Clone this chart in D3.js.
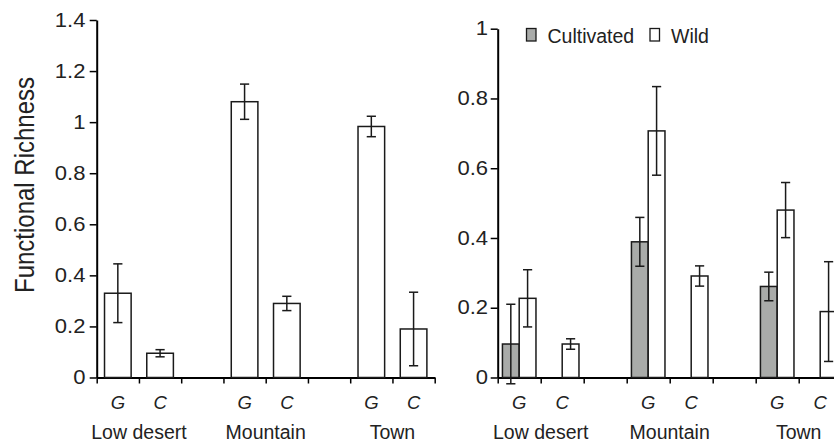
<!DOCTYPE html>
<html>
<head>
<meta charset="utf-8">
<script src="https://cdn.jsdelivr.net/npm/d3@7"></script>
<style>
  html, body { margin: 0; padding: 0; background: #fff; }
  svg { display: block; font-family: "Liberation Sans", Arial, Helvetica, sans-serif; }
</style>
</head>
<body>
<svg id="chart" width="834" height="441"></svg>
<script>
// ---------- data ----------
const sites = ["Low desert", "Mountain", "Town"];
const guilds = ["G", "C"];
const series = ["Cultivated", "Wild"];

// Left panel: overall functional richness (per site x guild)
const leftMeans = [0.33, 0.095, 1.08, 0.29, 0.983, 0.19];
const leftErr   = [0.115, 0.014, 0.069, 0.028, 0.04, 0.144];

// Right panel: cultivated vs wild (null = no bar)
const cultivatedMeans = [0.096, null, 0.389, null, 0.261, null];
const cultivatedErr   = [0.114, null, 0.07, null, 0.041, null];
const wildMeans = [0.227, 0.096, 0.707, 0.291, 0.48, 0.189];
const wildErr   = [0.082, 0.015, 0.127, 0.029, 0.079, 0.143];

const leftTicks = [0, 0.2, 0.4, 0.6, 0.8, 1, 1.2, 1.4];
const rightTicks = [0, 0.2, 0.4, 0.6, 0.8, 1];

// ---------- layout ----------
const svg = d3.select("#chart");
const textColor = "#222";
const grayFill = "#a9aba9";

// slots: G, C per site, with an empty gap slot between sites
const slots = [];
sites.forEach((s, i) => {
  guilds.forEach(g => slots.push(s + "|" + g));
  if (i < sites.length - 1) slots.push("gap" + i);
});
// slots length = 8

function panel(opts) {
  const g = svg.append("g");
  const x = d3.scaleBand().domain(slots).range(opts.xRange).paddingInner(0).paddingOuter(0);
  const xEdge = d3.scaleLinear().domain([0, slots.length]).range(opts.xRange);
  const y = d3.scaleLinear().domain(opts.yDomain).range(opts.yRange);

  // y axis
  const ya = g.append("g")
    .attr("transform", `translate(${opts.xRange[0]},0)`)
    .call(d3.axisLeft(y).tickValues(opts.yTicks).tickFormat(d3.format("~g")).tickSize(7).tickSizeOuter(0).tickPadding(opts.tickPad));
  ya.select(".domain").attr("stroke", "#000").attr("stroke-width", 2);
  ya.selectAll(".tick line").attr("stroke", "#000").attr("stroke-width", 1.5);
  ya.selectAll(".tick text")
    .attr("fill", textColor)
    .style("font-size", "19.5px")
    .attr("transform", "scale(1.13,1)");

  // x axis (ticks at slot edges)
  const xa = g.append("g")
    .attr("transform", `translate(0,${opts.yRange[0]})`)
    .call(d3.axisBottom(xEdge).tickValues(d3.range(slots.length + 1)).tickFormat("").tickSize(6).tickSizeOuter(0));
  xa.select(".domain").attr("stroke", "#000").attr("stroke-width", 2.2);
  xa.selectAll(".tick line").attr("stroke", "#000").attr("stroke-width", 1.5);

  // guild labels
  sites.forEach(s => {
    guilds.forEach(gu => {
      g.append("text")
        .attr("x", x(s + "|" + gu) + x.bandwidth() / 2)
        .attr("y", 408.5)
        .attr("text-anchor", "middle")
        .attr("fill", textColor)
        .style("font-size", "18.5px")
        .style("font-style", "italic")
        .text(gu);
    });
    g.append("text")
      .attr("x", x(s + "|" + guilds[1]))
      .attr("y", 438.5)
      .attr("text-anchor", "middle")
      .attr("fill", textColor)
      .style("font-size", "19.5px")
      .text(s);
  });
  return { g, x, y };
}

function drawBar(p, x0, w, mean, err, fill) {
  const y0 = p.y(0);
  p.g.append("rect")
    .attr("x", x0).attr("y", p.y(mean))
    .attr("width", w).attr("height", y0 - p.y(mean))
    .attr("fill", fill).attr("stroke", "#1a1a1a").attr("stroke-width", 1.5);
  const cx = x0 + w / 2;
  const cap = 4.6;
  const eb = p.g.append("g").attr("stroke", "#1a1a1a").attr("stroke-width", 1.5);
  eb.append("line").attr("x1", cx).attr("x2", cx).attr("y1", p.y(mean + err)).attr("y2", p.y(mean - err));
  eb.append("line").attr("x1", cx - cap).attr("x2", cx + cap).attr("y1", p.y(mean + err)).attr("y2", p.y(mean + err));
  eb.append("line").attr("x1", cx - cap).attr("x2", cx + cap).attr("y1", p.y(mean - err)).attr("y2", p.y(mean - err));
}

// ---------- left panel ----------
const L = panel({ xRange: [96.7, 434.7], yDomain: [0, 1.4], yRange: [377.5, 20], yTicks: leftTicks, tickPad: 3 });
sites.forEach((s, i) => {
  guilds.forEach((gu, j) => {
    const k = i * 2 + j;
    const bw = L.x.bandwidth() * 0.63;
    const cx = L.x(s + "|" + gu) + L.x.bandwidth() / 2;
    drawBar(L, cx - bw / 2, bw, leftMeans[k], leftErr[k], "#fff");
  });
});

// y-axis title
svg.append("text")
  .attr("transform", "translate(33.5,185) rotate(-90) scale(1,1.13)")
  .attr("text-anchor", "middle")
  .attr("fill", textColor)
  .style("font-size", "24px")
  .text("Functional Richness");

// ---------- right panel ----------
const R = panel({ xRange: [497.7, 841.7], yDomain: [0, 1], yRange: [377.5, 28.7], yTicks: rightTicks, tickPad: 1.5 });
sites.forEach((s, i) => {
  guilds.forEach((gu, j) => {
    const k = i * 2 + j;
    const bw = R.x.bandwidth() * 0.39;
    const cx = R.x(s + "|" + gu) + R.x.bandwidth() / 2;
    if (cultivatedMeans[k] != null) drawBar(R, cx - bw, bw, cultivatedMeans[k], cultivatedErr[k], grayFill);
    if (wildMeans[k] != null) drawBar(R, cx, bw, wildMeans[k], wildErr[k], "#fff");
  });
});

// legend
const legendX = [526.5, 650];
const legendFill = [grayFill, "#fff"];
series.forEach((name, i) => {
  svg.append("rect")
    .attr("x", legendX[i]).attr("y", 28.5)
    .attr("width", 9.5).attr("height", 12.5)
    .attr("fill", legendFill[i]).attr("stroke", "#1a1a1a").attr("stroke-width", 1.3);
  svg.append("text")
    .attr("x", legendX[i] + 21).attr("y", 43.3)
    .attr("fill", textColor)
    .style("font-size", "19.5px")
    .text(name);
});
</script>
</body>
</html>
